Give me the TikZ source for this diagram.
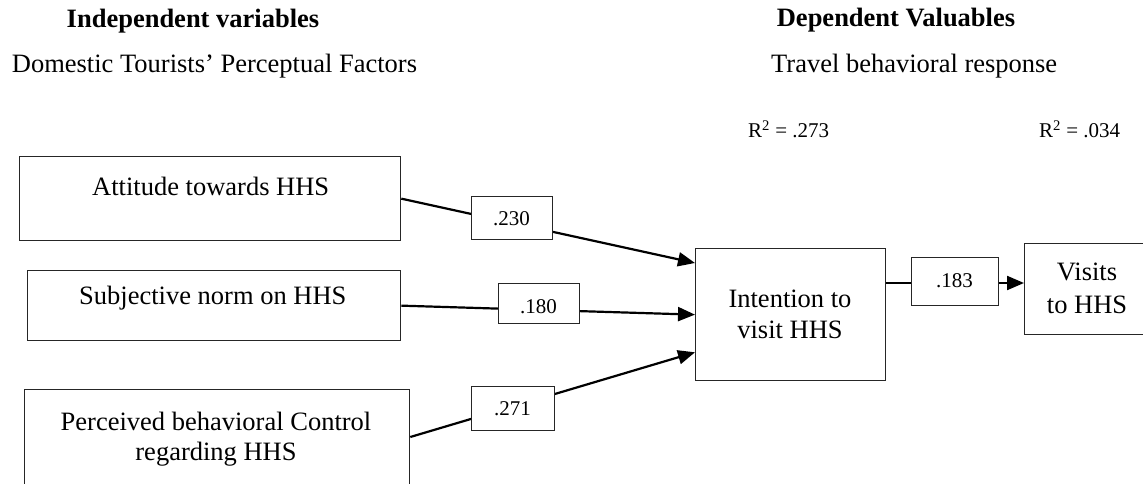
\documentclass[tikz,border=0pt]{standalone}
\usepackage{fontspec}
\setmainfont{Liberation Serif}
\usetikzlibrary{arrows.meta,calc}
\begin{document}
\begin{tikzpicture}[x=1pt,y=-1pt,
  box/.style={draw=black!85,line width=1.3pt,fill=white,inner sep=0pt,anchor=north west},
  lbl/.style={draw=black!85,line width=1.3pt,fill=white,inner sep=0pt,anchor=north west},
  lbltxt/.style={font=\fontsize{21}{25}\selectfont,inner sep=0pt,anchor=base},
  txt/.style={font=\fontsize{26.5}{31}\selectfont,inner sep=0pt,anchor=base},
  ttl/.style={font=\fontsize{26.5}{31}\selectfont\bfseries,inner sep=0pt,anchor=base},
  conn/.style={line width=2.2pt,-{Triangle[length=17pt,width=14pt]}},
]
\useasboundingbox (0,0) rectangle (1143,484);
\begin{scope}
\clip (0,0) rectangle (1143,484);
% main boxes
\node[box,minimum width=381pt,minimum height=84pt] (A) at (19,156) {};
\node[box,minimum width=373pt,minimum height=70pt] (S) at (27,270) {};
\node[box,minimum width=385pt,minimum height=130pt] (P) at (24,389) {};
\node[box,minimum width=190pt,minimum height=132pt] (I) at (695,248) {};
\node[box,minimum width=136pt,minimum height=91pt] (V) at (1024,243) {};
% connectors
\draw[conn] (A.east) -- ($(I.north west)+(0,15)$);
\draw[conn] (S.east) -- (I.west);
\draw[conn] ($(P.north east)+(0,48)$) -- ($(I.south west)+(0,-29)$);
\draw[conn] ($(I.north east)+(0,35)$) -- ($(V.north west)+(0,40)$);
% coefficient boxes
\node[lbl,minimum width=81pt,minimum height=43pt] (L1) at (471,196) {};
\node[lbl,minimum width=81pt,minimum height=40pt] (L2) at (498,283) {};
\node[lbl,minimum width=83pt,minimum height=44pt] (L3) at (471,386) {};
\node[lbl,minimum width=87pt,minimum height=48pt] (L4) at (911,257) {};
\end{scope}
% coefficient texts
\node[lbltxt] (t1) at (511.5,225) {.230};
\node[lbltxt] (t2) at (538.5,313) {.180};
\node[lbltxt] (t3) at (512.5,415) {.271};
\node[lbltxt] (t4) at (954.5,287) {.183};
% box texts
\node[txt,anchor=base west] (ta) at (92,195) {Attitude towards HHS};
\node[txt,anchor=base west] (ts) at (79,304) {Subjective norm on HHS};
\node[txt] (tp1) at (216,430) {Perceived behavioral Control};
\node[txt] (tp2) at (216,460) {regarding HHS};
\node[txt] (ti1) at (790,307) {Intention to};
\node[txt] (ti2) at (790,338) {visit HHS};
\node[txt] (tv1) at (1087,280) {Visits};
\node[txt] (tv2) at (1087,313) {to HHS};
% headings
\node[ttl] (h1) at (193,28) {Independent variables};
\node[txt,anchor=base west] (h2) at (11.7,73) {Domestic Tourists’ Perceptual Factors};
\node[ttl] (h3) at (896,27) {Dependent Valuables};
\node[txt,anchor=base west] (h4) at (771,73) {Travel behavioral response};
\node[lbltxt,anchor=base west] (r1) at (748,138) {R\textsuperscript{2} = .273};
\node[lbltxt,anchor=base west] (r2) at (1039,138) {R\textsuperscript{2} = .034};
\end{tikzpicture}
\end{document}
